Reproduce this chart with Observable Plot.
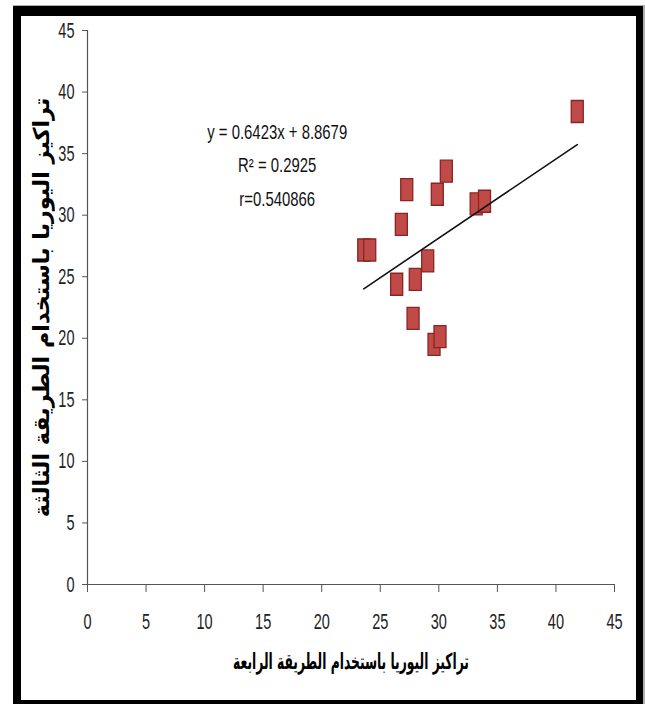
<!DOCTYPE html>
<html>
<head>
<meta charset="utf-8">
<script src="https://cdn.jsdelivr.net/npm/d3@7"></script>
<script src="https://cdn.jsdelivr.net/npm/@observablehq/plot@0.6"></script>
<style>
  html, body { margin: 0; padding: 0; background: #fff; }
  #wrap { position: relative; width: 645px; height: 704px; overflow: hidden; background: #fff; }
  #frame { position: absolute; left: 13px; top: 6px; width: 630px; height: 702px; box-sizing: border-box;
           border-style: solid; border-color: #000; border-width: 10px 7px 8px 8px;
           box-shadow: 1px 0 0 1px #b0b0b0; }
  #chart { position: absolute; left: 0; top: 0; }
</style>
</head>
<body>
<div id="wrap"><div id="frame"></div><div id="chart"></div></div>
<script>
// Data
const methodFour  = [41.82, 30.64, 27.26, 29.87, 33.19, 33.90, 26.80, 23.59, 24.10, 29.05, 27.99, 26.40, 27.80, 29.59, 30.10];
const methodThree = [38.42, 33.57, 32.07, 31.70, 30.92, 31.13, 29.26, 27.17, 27.17, 26.28, 24.79, 24.39, 21.61, 19.51, 20.13];
const slope = 0.6423;
const intercept = 8.8679;
const annotationLines = ["y = 0.6423x + 8.8679", "R² = 0.2925", "r=0.540866"];
const xTicks = [0, 5, 10, 15, 20, 25, 30, 35, 40, 45];
const yTicks = [0, 5, 10, 15, 20, 25, 30, 35, 40, 45];
const xLabel = "تراكيز اليوريا باستخدام الطريقة الرابعة";
const yLabel = "تراكيز اليوريا باستخدام الطريقة الثالثة";

const points = methodFour.map((x, i) => ({x, y: methodThree[i]}));
const [xmin, xmax] = d3.extent(methodFour);
const trend = [xmin, xmax].map(x => ({x, y: slope * x + intercept}));

const rectSymbol = { draw(ctx) { ctx.rect(-6, -11, 12, 22); } };
const latin = "'Liberation Sans', Arial, sans-serif";
const arabic = "'DejaVu Sans', sans-serif";

const plot = Plot.plot({
  width: 645,
  height: 704,
  marginLeft: 87,
  marginRight: 31,
  marginTop: 30,
  marginBottom: 120,
  style: { fontFamily: latin, fontSize: "22px", color: "#222", background: "transparent" },
  x: { domain: [0, 45], ticks: xTicks },
  y: { domain: [0, 45], ticks: yTicks },
  marks: [
    Plot.axisX({ ticks: xTicks, tickSize: 8, tickPadding: 21, stroke: "#555", label: null, fontSize: 22 }),
    Plot.axisY({ ticks: yTicks, tickSize: 5, tickPadding: 8, stroke: "#555", label: null, fontSize: 22 }),
    Plot.ruleY([0], { stroke: "#555", strokeWidth: 1.2 }),
    Plot.ruleX([0], { stroke: "#555", strokeWidth: 1.2 }),
    Plot.dot(points, { x: "x", y: "y", symbol: rectSymbol, fill: "#c04a47", stroke: "#8a2422", strokeWidth: 1.3 }),
    Plot.line(trend, { x: "x", y: "y", stroke: "#111", strokeWidth: 1.6 }),
    Plot.text([annotationLines.join("\n")], { x: 16.2, y: 34.35, text: d => d, fontSize: 20, lineHeight: 1.7, fill: "#111", fontFamily: latin }),
    Plot.text([xLabel], { frameAnchor: "bottom", textAnchor: "middle", dy: 84, text: d => d, fontSize: 22, fontWeight: "bold", fill: "#000", fontFamily: arabic }),
    Plot.text([yLabel], { frameAnchor: "left", textAnchor: "middle", dx: -46, rotate: -90, text: d => d, fontSize: 22, fontWeight: "bold", fill: "#000", fontFamily: arabic })
  ]
});

document.getElementById("chart").appendChild(plot);

// narrow, tall look of the reference lettering
function fitWidth(el, target) {
  const w = el.getBBox().width;
  const t = el.getAttribute("transform") || "";
  el.setAttribute("transform", t + ` scale(${target / w},1)`);
}
function squeeze(el, sx) {
  const t = el.getAttribute("transform") || "";
  el.setAttribute("transform", t + ` scale(${sx},1)`);
}
const svg = d3.select(plot);
svg.selectAll("g[aria-label='x-axis tick label'] text, g[aria-label='y-axis tick label'] text")
  .each(function () { squeeze(this, 0.66); });
svg.selectAll("text").each(function () {
  const s = this.textContent;
  if (s === xLabel) fitWidth(this, 236);
  else if (s === yLabel) fitWidth(this, 420);
  else if (s.startsWith("y = ")) fitWidth(this, 140);
});
</script>
</body>
</html>
